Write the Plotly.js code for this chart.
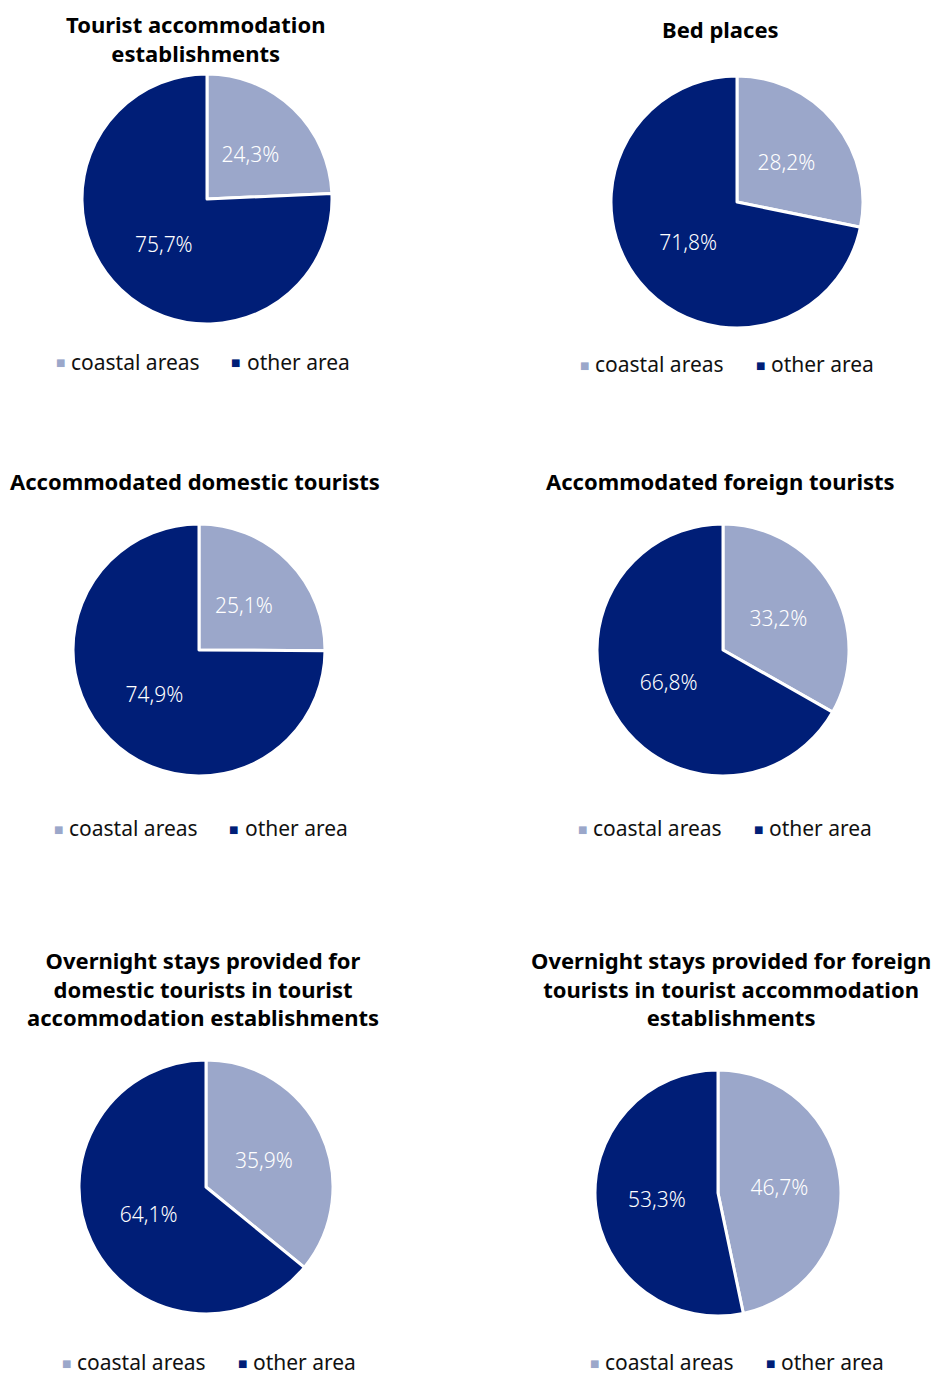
<!DOCTYPE html>
<html><head><meta charset="utf-8">
<script src="https://cdn.plot.ly/plotly-3.0.1.min.js"></script>
<style>html,body{margin:0;padding:0;background:#fff}</style>
</head><body><div id="chart" style="width:935px;height:1376px"></div>
<script>
// ---- data ----
const categories = ['coastal areas', 'other area'];
const panelTitles = [
  'Tourist accommodation<br>establishments',
  'Bed places',
  'Accommodated domestic tourists',
  'Accommodated foreign tourists',
  'Overnight stays provided for<br>domestic tourists in tourist<br>accommodation establishments',
  'Overnight stays provided for foreign<br>tourists in tourist accommodation<br>establishments'
];
const coastalShare = [24.3, 28.2, 25.1, 33.2, 35.9, 46.7];
const otherShare   = [75.7, 71.8, 74.9, 66.8, 64.1, 53.3];

// ---- layout / style ----
const W = 935, H = 1376;
const sliceColors = ['#9BA7CA', '#001E77'];
// cx,cy,r: pie centre/radius (px); tx,ty: title centre; lx,ly: legend start; k: label radius factor (small slice)
const panels = [
  {cx: 207, cy: 199,  r: 125, tx: 195, ty: 39,  lx: 60,  ly: 362,  k: 0.85},
  {cx: 737, cy: 202,  r: 126, tx: 720, ty: 29,  lx: 584, ly: 364,  k: 0.90},
  {cx: 199, cy: 650,  r: 126, tx: 195, ty: 481, lx: 58,  ly: 828,  k: 0.86},
  {cx: 723, cy: 650,  r: 126, tx: 720, ty: 481, lx: 582, ly: 828,  k: 0.95},
  {cx: 206, cy: 1187, r: 127, tx: 203, ty: 988, lx: 66,  ly: 1362, k: 0.96},
  {cx: 718, cy: 1193, r: 123, tx: 731, ty: 988, lx: 594, ly: 1362, k: 1.00}
];
const legendStep = 176;   // px between legend entries
const fmt = v => v.toFixed(1).replace('.', ',') + '%';
const dom = (cx, cy, r) => ({
  x: [(cx - r) / W, (cx + r) / W],
  y: [1 - (cy + r) / H, 1 - (cy - r) / H]
});
const labelFont = {color: '#ffffff', size: 21, weight: 300, family: '"Noto Sans", sans-serif'};

const traces = [];
const annotations = [];
const layout = {
  width: W, height: H,
  margin: {l: 0, r: 0, t: 0, b: 0},
  paper_bgcolor: '#ffffff',
  showlegend: false,
  font: {family: '"Noto Sans", "Open Sans", sans-serif', color: '#111'},
  annotations: annotations
};

panels.forEach((p, i) => {
  const vals = [coastalShare[i], otherShare[i]];
  const common = {
    type: 'pie',
    labels: categories,
    values: vals,
    textinfo: 'text',
    textposition: 'inside',
    insidetextorientation: 'horizontal',
    textfont: labelFont,
    sort: false,
    direction: 'clockwise',
    rotation: 0,
    hoverinfo: 'skip'
  };
  // the pie itself (carries the label of the larger slice)
  traces.push(Object.assign({}, common, {
    text: vals.map((v, j) => j === 1 ? fmt(v) : ''),
    marker: {colors: sliceColors, line: {color: '#ffffff', width: 3}},
    domain: dom(p.cx, p.cy, p.r)
  }));
  // transparent companion pie carrying the label of the smaller slice
  traces.push(Object.assign({}, common, {
    text: vals.map((v, j) => j === 0 ? fmt(v) : ''),
    marker: {colors: ['rgba(0,0,0,0)', 'rgba(0,0,0,0)'], line: {width: 0}},
    domain: dom(p.cx, p.cy, p.r * p.k)
  }));
  // title
  annotations.push({
    text: panelTitles[i],
    xref: 'paper', yref: 'paper',
    x: p.tx / W, y: 1 - p.ty / H,
    xanchor: 'center', yanchor: 'middle',
    showarrow: false,
    font: {size: 22, weight: 700, color: '#000'}
  });
  // legend entries
  categories.forEach((c, j) => {
    const mx = p.lx + j * legendStep;
    annotations.push({
      text: '■',
      xref: 'paper', yref: 'paper',
      x: mx / W, y: 1 - (p.ly + 1) / H,
      xanchor: 'center', yanchor: 'middle',
      showarrow: false, borderpad: 0,
      font: {size: 10, color: sliceColors[j], family: 'DejaVu Sans'}
    });
    annotations.push({
      text: c,
      xref: 'paper', yref: 'paper',
      x: (mx + 10) / W, y: 1 - p.ly / H,
      xanchor: 'left', yanchor: 'middle',
      showarrow: false, borderpad: 0,
      font: {size: 21, color: '#111'}
    });
  });
});

Plotly.newPlot('chart', traces, layout, {staticPlot: true, displayModeBar: false});
</script>
</body></html>
